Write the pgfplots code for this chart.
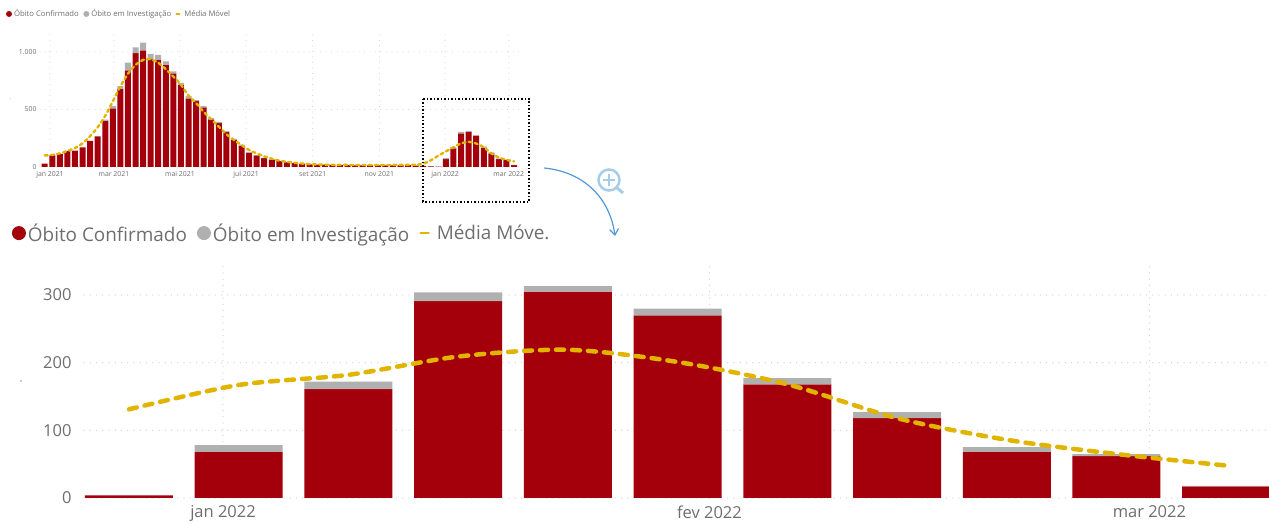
\documentclass[border=0pt]{standalone}
\usepackage{fontspec}
\setmainfont{Open Sans}
\usepackage{pgfplots}
\usepackage{pgfplotstable}
\pgfplotsset{compat=1.18}
\usetikzlibrary{arrows.meta}
\definecolor{obitored}{RGB}{163,0,12}
\definecolor{obitogray}{RGB}{176,176,176}
\definecolor{mediagold}{RGB}{224,180,0}
\definecolor{txtgray}{RGB}{110,110,110}
\definecolor{gridgray}{RGB}{205,205,205}
\definecolor{arrowblue}{RGB}{85,150,215}
\definecolor{iconblue}{RGB}{165,205,235}

% overview: weekly values jan 2021 - mar 2022
\pgfplotstableread{
x conf inv avg
0 30 0 100
1 100 0 105
2 115 0 118
3 140 0 138
4 142 0 165
5 170 0 205
6 227 0 268
7 267 0 345
8 401 11 445
9 510 20 570
10 678 25 700
11 840 67 810
12 988 52 887
13 1012 69 930
14 936 46 936
15 930 44 905
16 886 32 850
17 813 18 785
18 715 15 715
19 596 20 620
20 572 9 555
21 517 12 480
22 413 11 415
23 381 11 350
24 302 9 285
25 235 9 235
26 183 12 190
27 125 6 148
28 100 3 118
29 78 2 92
30 64 1 72
31 50 1 55
32 40 0 45
33 33 0 36
34 28 0 30
35 22 0 25
36 20 0 22
37 20 0 20
38 18 0 19
39 17 0 18
40 16 0 18
41 15 0 17
42 15 0 17
43 14 0 17
44 14 0 17
45 14 0 17
46 15 0 18
47 15 0 18
48 16 0 18
49 12 0 20
50 10 0 28
51 5 0 58
52 4 0 98
53 68 10 135
54 161 11 172
55 291 13 205
56 305 8 219
57 270 10 204
58 168 9 172
59 118 9 118
60 68 7 82
61 62 3 62
62 17 1 49
}\overviewtable

% zoomed part: last 11 weeks
\pgfplotstableread{
x conf inv avg
0 4 0 131
1 68 10 167
2 161 11 182
3 291 13 209
4 305 8 219
5 270 10 201
6 168 9 168
7 118 9 118
8 68 7 86
9 62 3 65
10 17 1 48
}\zoomtable

\pgfplotsset{
    painel/.style={
        scale only axis,
        ybar stacked,
        reverse stacked plots=false,
        axis line style={draw=none},
        major tick length=0pt,
        ymin=0,
        grid=major,
        major grid style={gridgray,line cap=round,line width=#1,dash pattern=on 0pt off 2.5*#1+3pt},
        tick label style={text=txtgray,/pgf/number format/assume math mode=true},
        legend style={draw=none,fill=none,inner sep=0pt,outer sep=0pt,text=txtgray},
        legend cell align=left,
        legend columns=3,
    },
}

\begin{document}
\begin{tikzpicture}[x=1pt,y=1pt]
\useasboundingbox (0,0) rectangle (1269,524);

% overview chart
\begin{axis}[
    painel=1pt,
    at={(40pt,357pt)},anchor=south west,
    width=482pt,height=137pt,
    xmin=-0.62,xmax=63.05,ymax=1190,
    bar width=6pt,
    xtick={0.70,9.15,17.87,26.6,35.4,44.2,52.9,61.3},
    xticklabels={jan 2021,mar 2021,mai 2021,jul 2021,set 2021,nov 2021,jan 2022,mar 2022},
    ytick={0,500,1000},
    yticklabels={0,500,1.000},
    tick label style={font=\fontsize{6.9}{8}\selectfont},
    xticklabel style={yshift=-1pt},
    yticklabel style={xshift=0pt},
    legend style={at={(-0.0705,1.117)},anchor=west,font=\fontsize{7.7}{9}\selectfont,
        /tikz/every even column/.append style={column sep=2.5pt}},
]
\addplot[fill=obitored,draw=none,
    legend image code/.code={\fill[obitored] (0,0) circle (3pt);}]
    table[x=x,y=conf] {\overviewtable};
\addlegendentry{Óbito Confirmado}
\addplot[fill=obitogray,draw=none,
    legend image code/.code={\fill[obitogray] (0,0) circle (3pt);}]
    table[x=x,y=inv] {\overviewtable};
\addlegendentry{Óbito em Investigação}
\addplot[sharp plot,stack plots=false,smooth,mediagold,line width=2.4pt,line cap=round,dash pattern=on 3pt off 3.2pt,
    legend image code/.code={\draw[mediagold,line width=1.5pt] (0,0) -- (5pt,0);}]
    table[x=x,y=avg] {\overviewtable};
\addlegendentry{Média Móvel}
\end{axis}

% zoomed chart
\begin{axis}[
    painel=1.3pt,
    at={(84pt,26pt)},anchor=south west,
    width=1185pt,height=234pt,
    xmin=-0.41,xmax=10.39,ymax=345.8,
    bar width=88pt,
    xtick={0.857,5.29,9.30},
    xticklabels={jan 2022,fev 2022,mar 2022},
    ytick={0,100,200,300},
    tick label style={font=\fontsize{16.5}{18}\selectfont},
    xticklabel style={yshift=-4pt},
    yticklabel style={xshift=-9pt},
    legend style={at={(-0.0608,1.132)},anchor=west,font=\fontsize{18.9}{21}\selectfont,
        /tikz/every even column/.append style={column sep=8pt}},
]
\addplot[fill=obitored,draw=none,
    legend image code/.code={\fill[obitored] (0,0) circle (7pt);}]
    table[x=x,y=conf] {\zoomtable};
\addlegendentry{Óbito Confirmado}
\addplot[fill=obitogray,draw=none,
    legend image code/.code={\fill[obitogray] (0,0) circle (7pt);}]
    table[x=x,y=inv] {\zoomtable};
\addlegendentry{Óbito em Investigação}
\addplot[sharp plot,stack plots=false,smooth,mediagold,line width=4.5pt,line cap=round,dash pattern=on 8pt off 8pt,
    legend image code/.code={\draw[mediagold,line width=2.5pt] (0,0) -- (13pt,0);}]
    table[x=x,y=avg] {\zoomtable};
\addlegendentry{Média Móve.}
\end{axis}

% zoom box, arrow and magnifier
\draw[black,line width=1.5pt,dash pattern=on 1.5pt off 2pt] (423,425) rectangle (529,322);
\draw[arrowblue,line width=1.2pt,-{Straight Barb[length=6pt,width=9pt]}] (544,356) .. controls (585,352) and (610,325) .. (615,288);
\draw[iconblue,line width=2.5pt] (609,344) circle (10.5pt);
\draw[iconblue,line width=3pt] (617,336) -- (623,331);
\draw[iconblue,line width=1.5pt] (603,344) -- (615,344) (609,338) -- (609,350);
\fill[txtgray!70] (21,143) circle (0.8pt);
\fill[txtgray!70] (10,425) circle (0.5pt);
\end{tikzpicture}
\end{document}
